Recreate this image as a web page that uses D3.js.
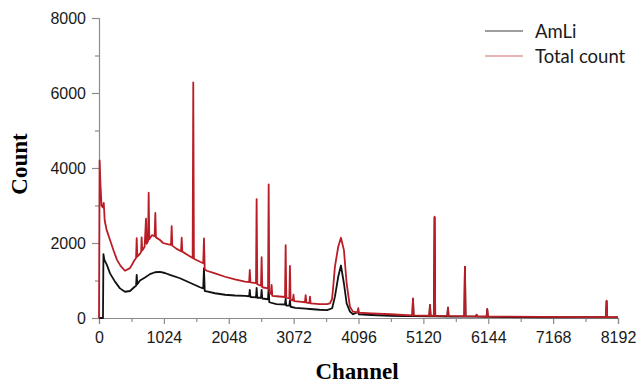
<!DOCTYPE html>
<html>
<head>
<meta charset="utf-8">
<script src="https://cdn.jsdelivr.net/npm/d3@7"></script>
<style>
  body { margin: 0; background: #fff; }
  svg { display: block; }
</style>
</head>
<body>
<div id="chart"></div>
<script>
// channel ticks and count ticks
const xTicks = [0, 1024, 2048, 3072, 4096, 5120, 6144, 7168, 8192];
const xMinorTicks = [512, 1536, 2560, 3584, 4608, 5632, 6656, 7680];
const yTicks = [0, 2000, 4000, 6000, 8000];
const yMinorTicks = [1000, 3000, 5000, 7000];

const seriesNames = ["AmLi", "Total count"];

// [channel, count]
const amliSpectrum = [
  [0, 0], [63, 0], [70, 1700], [85, 1550], [126, 1410], [174, 1190], [252, 970],
  [331, 790], [410, 700], [489, 720], [568, 840], [585, 860], [595, 1150], [605, 900],
  [647, 1000], [726, 1080], [805, 1170], [884, 1220], [963, 1230], [1040, 1200],
  [1120, 1150], [1278, 1060], [1436, 940], [1594, 820], [1645, 790], [1657, 1330],
  [1669, 720], [1700, 710], [1831, 660], [1989, 620], [2146, 600], [2304, 590],
  [2370, 580], [2380, 750], [2390, 560], [2478, 550], [2488, 800], [2498, 540],
  [2557, 540], [2567, 750], [2577, 520], [2668, 500], [2678, 840], [2688, 420],
  [2800, 370], [2936, 360], [2946, 520], [2956, 330], [3004, 330], [3014, 470],
  [3024, 300], [3100, 270], [3262, 250], [3330, 240], [3480, 220], [3600, 210],
  [3680, 260], [3724, 570], [3776, 1100], [3819, 1400], [3866, 920], [3909, 390],
  [3961, 170], [4010, 100], [4092, 160], [4104, 95], [4300, 80], [4600, 60],
  [4800, 50], [4946, 50], [4956, 500], [4966, 50], [5214, 45], [5224, 340], [5234, 45],
  [5287, 45], [5297, 2680], [5307, 45], [5498, 40], [5508, 270], [5518, 40],
  [5766, 35], [5776, 1360], [5786, 35], [5950, 35], [5960, 80], [5970, 35],
  [6118, 30], [6128, 230], [6138, 30], [6400, 25], [7000, 20], [7600, 20],
  [8002, 20], [8012, 450], [8022, 20], [8192, 15]
];

const totalSpectrum = [
  [0, 0], [10, 4200], [22, 3600], [40, 3000], [60, 2950], [75, 3070], [90, 2600],
  [120, 2350], [174, 2080], [230, 1800], [284, 1550], [340, 1390], [410, 1260],
  [489, 1330], [560, 1540], [585, 1600], [595, 2130], [605, 1640], [640, 1700],
  [665, 1760], [673, 2150], [683, 1800], [720, 1900], [742, 2650], [752, 1980],
  [774, 2050], [784, 3340], [794, 2100], [836, 2210], [878, 2180], [889, 2800],
  [899, 2150], [963, 2080], [1010, 2000], [1080, 1970], [1137, 1950], [1147, 2450],
  [1157, 1930], [1220, 1850], [1295, 1780], [1305, 2140], [1315, 1770], [1400, 1680],
  [1478, 1600], [1488, 6280], [1498, 1580], [1594, 1500], [1645, 1460], [1657, 2120],
  [1669, 1300], [1700, 1260], [1831, 1190], [1989, 1100], [2146, 1030], [2304, 970],
  [2370, 960], [2380, 1280], [2390, 950], [2478, 930], [2488, 3170], [2498, 900],
  [2557, 860], [2567, 1620], [2577, 820], [2668, 790], [2678, 3560], [2688, 700],
  [2715, 640], [2725, 880], [2735, 590], [2800, 580], [2936, 560], [2946, 1940],
  [2956, 540], [3004, 520], [3014, 1390], [3024, 480], [3060, 470], [3070, 620],
  [3080, 450], [3200, 430], [3250, 420], [3262, 610], [3274, 410], [3320, 400],
  [3330, 570], [3340, 390], [3480, 370], [3600, 370], [3645, 390], [3677, 500],
  [3693, 750], [3724, 1370], [3776, 1900], [3819, 2140], [3866, 1810], [3909, 920],
  [3961, 300], [4008, 170], [4080, 150], [4092, 260], [4104, 140], [4300, 125],
  [4600, 100], [4800, 80], [4946, 70], [4956, 520], [4966, 70], [5214, 60],
  [5224, 350], [5234, 60], [5287, 60], [5297, 2700], [5307, 60], [5498, 55],
  [5508, 280], [5518, 55], [5766, 50], [5776, 1370], [5786, 50], [5950, 45],
  [5960, 90], [5970, 45], [6118, 40], [6128, 240], [6138, 40], [6400, 35],
  [7000, 30], [7600, 25], [8002, 25], [8012, 460], [8022, 25], [8192, 20]
];

const width = 638, height = 384;
const colors = { amli: "#111111", total: "#b91e27" };

const svg = d3.select("#chart").append("svg")
  .attr("width", width)
  .attr("height", height);

const x = d3.scaleLinear().domain([0, 8192]).range([99, 618]);
const y = d3.scaleLinear().domain([0, 8000]).range([318, 18]);

const tickFont = "'Liberation Sans', Arial, sans-serif";

// Y axis
svg.append("g")
  .attr("transform", `translate(${x(0)},0)`)
  .call(d3.axisLeft(y).tickValues(yTicks).tickSize(7).tickPadding(6).tickFormat(d3.format("d")));
svg.append("g")
  .attr("transform", `translate(${x(0)},0)`)
  .call(d3.axisLeft(y).tickValues(yMinorTicks).tickSize(4).tickFormat(""))
  .call(g => g.select(".domain").remove());

// X axis
svg.append("g")
  .attr("transform", `translate(0,${y(0)})`)
  .call(d3.axisBottom(x).tickValues(xTicks).tickSize(6).tickPadding(8).tickFormat(d3.format("d")));
svg.append("g")
  .attr("transform", `translate(0,${y(0)})`)
  .call(d3.axisBottom(x).tickValues(xMinorTicks).tickSize(4).tickFormat(""))
  .call(g => g.select(".domain").remove());

svg.selectAll(".domain, .tick line")
  .attr("stroke", "#8c8c8c")
  .attr("stroke-width", 1.2);
svg.selectAll(".tick text")
  .attr("fill", "#1a1a1a")
  .style("font-family", tickFont)
  .style("font-size", "16px");

// Lines
const line = d3.line()
  .x(d => x(d[0]))
  .y(d => y(d[1]));

svg.append("path")
  .datum(amliSpectrum)
  .attr("fill", "none")
  .attr("stroke", colors.amli)
  .attr("stroke-width", 1.8)
  .attr("stroke-linejoin", "round")
  .attr("d", line);

svg.append("path")
  .datum(totalSpectrum)
  .attr("fill", "none")
  .attr("stroke", colors.total)
  .attr("stroke-width", 1.8)
  .attr("stroke-linejoin", "round")
  .attr("d", line);

// Axis titles
svg.append("text")
  .attr("transform", "translate(27,164) rotate(-90)")
  .attr("text-anchor", "middle")
  .style("font-family", "'Liberation Serif', 'Times New Roman', serif")
  .style("font-weight", "bold")
  .style("font-size", "23px")
  .attr("fill", "#000")
  .text("Count");

svg.append("text")
  .attr("x", 357)
  .attr("y", 379)
  .attr("text-anchor", "middle")
  .style("font-family", "'Liberation Serif', 'Times New Roman', serif")
  .style("font-weight", "bold")
  .style("font-size", "23px")
  .attr("fill", "#000")
  .text("Channel");

// Legend
const legend = svg.append("g");
const legendColors = [colors.amli, colors.total];
seriesNames.forEach((name, i) => {
  const ly = 31 + i * 25;
  legend.append("line")
    .attr("x1", 485).attr("x2", 523)
    .attr("y1", ly).attr("y2", ly)
    .attr("stroke", legendColors[i])
    .attr("stroke-width", 1.2)
    .attr("opacity", i === 0 ? 0.8 : 0.65);
  legend.append("text")
    .attr("x", 535)
    .attr("y", ly + 6.5)
    .style("font-family", "Lato, 'Open Sans', sans-serif")
    .style("font-size", "18.5px")
    .attr("fill", "#1a1a1a")
    .text(name);
});
</script>
</body>
</html>
